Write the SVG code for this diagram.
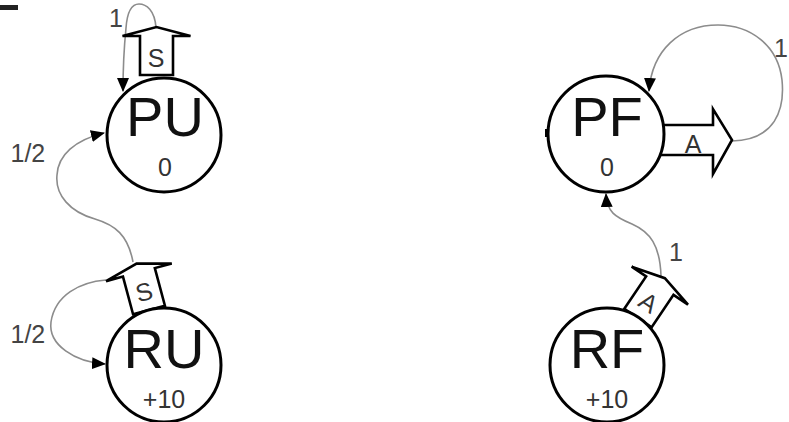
<svg xmlns="http://www.w3.org/2000/svg" width="789" height="422" viewBox="0 0 789 422">
<style>
.st{fill:#fff;stroke:#000;stroke-width:3}
.act{fill:#fff;stroke:#000;stroke-width:2.6;stroke-linejoin:miter}
.big{font-family:"Liberation Sans",Arial,sans-serif;font-size:56px;text-anchor:middle;fill:#111}
.val{font-family:"Liberation Sans",Arial,sans-serif;font-size:25px;text-anchor:middle;fill:#333}
.lbl{font-family:"Liberation Sans",Arial,sans-serif;font-size:25px;fill:#444}
.e{fill:none;stroke:#8c8c8c;stroke-width:1.6}
</style>
<defs>
<marker id="ah" markerUnits="userSpaceOnUse" markerWidth="14" markerHeight="12" refX="13" refY="6" orient="auto" viewBox="0 0 14 12"><path d="M0,0 L14,6 L0,12 z" fill="#000"/></marker>
<path id="actshape" d="M-16.5,0 V-39 H-34 L0,-48 L34,-39 H16.5 V0 Z"/>
</defs>
<rect x="0" y="5" width="18" height="5" fill="#222"/>
<g id="connectors">
<path class="e" d="M156,28 C155,10 146,4 139,4 C131,4 127,14 126,28 C124,48 123,66 123,91" marker-end="url(#ah)"/>
<path class="e" d="M133,262 C128,235 115,225 95,219 C70,212 55,195 57,175 C58,155 75,140 104,133" marker-end="url(#ah)"/>
<path class="e" d="M106,280 C80,282 55,295 51,322 C48,345 75,362 105,364" marker-end="url(#ah)"/>
<path class="e" d="M732,141 C775,140 785,110 782,80 C778,45 750,25 718,25 C680,25 652,50 649,91" marker-end="url(#ah)"/>
<path class="e" d="M661,276 C660,245 650,232 632,224 C615,217 607,212 606,194" marker-end="url(#ah)"/>
<text class="lbl" x="109" y="27">1</text>
<text class="lbl" x="10.5" y="162">1/2</text>
<text class="lbl" x="10.5" y="343">1/2</text>
<text class="lbl" x="669" y="261">1</text>
<text class="lbl" x="774" y="57">1</text>
</g>
<g id="PU">
<use href="#actshape" class="act" transform="translate(156.5,75)"/>
<text class="val" x="156" y="67" font-size="26">S</text>
<circle cx="164" cy="135" r="57" class="st"/>
<text class="big" x="165" y="136">PU</text>
<text class="val" x="165" y="176">0</text>
</g>
<g id="RU">
<g transform="translate(149,310) rotate(-15)">
<use href="#actshape" class="act"/>
<text class="val" x="0" y="-10" font-size="26">S</text>
</g>
<circle cx="164" cy="365" r="57" class="st"/>
<text class="big" x="164" y="368">RU</text>
<text class="val" x="164" y="408">+10</text>
</g>
<g id="PF">
<path class="act" d="M655,125 H713 V109 L732,140 L713,174 V155 H655"/>
<circle cx="606" cy="134" r="58" class="st"/>
<line x1="545" y1="133" x2="549" y2="133" stroke="#000" stroke-width="8"/>
<text class="big" x="607" y="136">PF</text>
<text class="val" x="607" y="176">0</text>
<text class="val" x="693" y="153" font-size="26">A</text>
</g>
<g id="RF">
<g transform="translate(638,318) rotate(34)">
<use href="#actshape" class="act"/>
<text class="val" x="0" y="-10" font-size="26">A</text>
</g>
<circle cx="607" cy="365" r="57" class="st"/>
<text class="big" x="607" y="368">RF</text>
<text class="val" x="607" y="408">+10</text>
</g>
</svg>
